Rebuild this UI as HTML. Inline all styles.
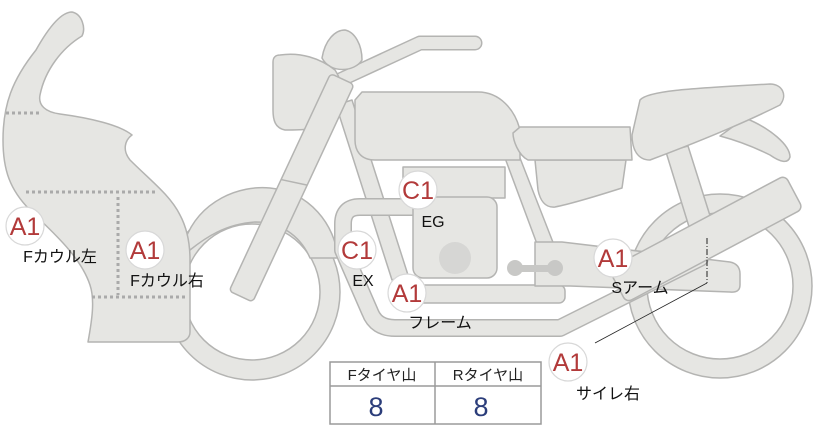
<!DOCTYPE html>
<html><head><meta charset="utf-8"><style>
html,body{margin:0;padding:0;background:#fff;}
svg{display:block;}
text{font-family:"Liberation Sans","Noto Sans CJK JP",sans-serif;}
</style></head><body>
<svg width="822" height="425" viewBox="0 0 822 425" xmlns="http://www.w3.org/2000/svg">
<g fill="#e6e6e3" stroke="#b4b4b2" stroke-width="1.5" stroke-linejoin="round">
<circle cx="720" cy="286" r="92"/>
<circle cx="720" cy="286" r="73" fill="#fff"/>
<circle cx="252" cy="292" r="88"/>
<circle cx="252" cy="292" r="68" fill="#fff"/>
<path d="M185,240 C200,200 240,185 270,188 C310,192 335,225 338,258 L310,258 C300,235 280,222 255,222 C225,224 205,238 190,250 Z"/>
<path d="M745,118 C770,128 790,145 790,157 C788,164 780,162 770,155 C750,145 735,140 720,136 Z"/>
<polygon points="666,152 688,146 712,222 690,230"/>
<path d="M535,160 L626,160 L622,188 C600,195 575,203 555,207 C545,208 540,200 538,190 Z"/>
<polygon points="505,158 520,158 556,250 540,252"/>
<polygon points="336,105 352,100 408,275 392,280"/>
<rect x="400" y="285" width="165" height="18" rx="6"/>
<path d="M535,242 L562,242 L730,262 Q740,264 740,274 L740,285 Q740,293 730,292 L570,286 L535,286 Z"/>
<path d="M420,207 L360,207 Q343,207 343,224 L343,250 L370,312 Q376,328 395,328 L560,328 L700,258" fill="none" stroke="#b4b4b2" stroke-width="18" stroke-linecap="round"/>
<path d="M420,207 L360,207 Q343,207 343,224 L343,250 L370,312 Q376,328 395,328 L560,328 L700,258" fill="none" stroke="#e6e6e3" stroke-width="15" stroke-linecap="round"/>
<g transform="translate(617,285) rotate(-28)">
<rect x="0" y="-18" width="200" height="38" rx="6"/>
</g>
<rect x="403" y="167" width="102" height="31"/>
<rect x="413" y="197" width="84" height="81" rx="10"/>
<circle cx="455" cy="258" r="16" fill="#d6d6d4" stroke="none"/>
<g fill="#c8c8c6" stroke="none">
<rect x="515" y="265" width="45" height="7"/>
<circle cx="515" cy="268" r="8"/><circle cx="555" cy="268" r="8"/>
</g>
<path d="M340,80 L420,43 L475,43" fill="none" stroke="#b4b4b2" stroke-width="15" stroke-linecap="round" stroke-linejoin="round"/>
<path d="M340,80 L420,43 L475,43" fill="none" stroke="#e6e6e3" stroke-width="12" stroke-linecap="round" stroke-linejoin="round"/>
<path d="M322,58 C325,40 335,30 345,30 C355,32 362,45 362,60 C355,72 330,74 322,58 Z"/>
<path d="M280,55 C300,52 320,58 335,70 C345,85 345,110 335,122 C320,130 300,130 285,130 C275,128 273,120 273,110 L273,62 C273,57 276,55 280,55 Z"/>
<path d="M362,92 L478,92 C500,92 515,110 520,130 L520,160 L375,160 C360,160 355,150 355,140 L355,100 Z"/>
<path d="M520,127 L630,127 L632,160 L528,160 C518,155 513,140 513,133 Z"/>
<path d="M640,100 C648,90 700,88 770,84 C782,84 788,95 780,105 C740,125 690,145 650,160 C638,160 632,150 632,135 Z"/>
<g transform="translate(243,292) rotate(-65)">
<rect x="-5" y="-13" width="240" height="26" rx="4"/>
<line x1="118" y1="-13" x2="124" y2="13"/>
</g>
<path d="M36,50 C50,25 62,12 72,12 C82,14 86,28 82,36 C62,48 45,70 40,95 C38,105 45,112 60,114 C90,118 120,125 132,135 C125,140 122,150 130,160 C150,180 170,195 180,215 C188,230 190,245 190,260 L190,332 C190,338 185,342 178,342 L88,342 C92,320 95,300 90,285 C80,255 50,230 30,210 C10,190 3,170 3,140 C3,105 12,80 36,50 Z"/>
</g>
<g stroke="#aaaaaa" stroke-width="3" stroke-dasharray="3,3" fill="none">
<line x1="6" y1="113" x2="40" y2="113"/>
<line x1="26" y1="192" x2="155" y2="192"/>
<line x1="118" y1="197" x2="118" y2="295"/>
<line x1="92" y1="297" x2="188" y2="297"/>
</g>
<line x1="595" y1="343" x2="707" y2="283" stroke="#222" stroke-width="0.8"/>
<line x1="707" y1="238" x2="707" y2="283" stroke="#222" stroke-width="1" stroke-dasharray="6,2,1,2"/>
<g>
<g fill="#fff" stroke="#d8d8d8" stroke-width="1.2">
<circle cx="25" cy="226" r="19"/>
<circle cx="145" cy="250" r="19"/>
<circle cx="357" cy="250" r="19"/>
<circle cx="418" cy="190" r="19"/>
<circle cx="407" cy="293" r="19"/>
<circle cx="613" cy="258" r="19"/>
<circle cx="568" cy="362" r="19"/>
</g>
<g fill="#b23a3a" font-size="25" text-anchor="middle">
<text x="25" y="235">A1</text>
<text x="145" y="259">A1</text>
<text x="357" y="259">C1</text>
<text x="418" y="199">C1</text>
<text x="407" y="302">A1</text>
<text x="613" y="267">A1</text>
<text x="568" y="371">A1</text>
</g>
</g>
<g fill="#111" font-size="16" text-anchor="middle">
<text x="60" y="262">Fカウル左</text>
<text x="167" y="286">Fカウル右</text>
<text x="363" y="286">EX</text>
<text x="433" y="227">EG</text>
<text x="440" y="328">フレーム</text>
<text x="640" y="293">Sアーム</text>
<text x="608" y="399">サイレ右</text>
</g>
<g fill="none" stroke="#9a9a9a" stroke-width="1.5">
<rect x="330" y="362" width="211" height="62"/>
<line x1="330" y1="386" x2="541" y2="386"/>
<line x1="435" y1="362" x2="435" y2="424"/>
</g>
<g font-size="15" fill="#222" text-anchor="middle">
<text x="382" y="380">Fタイヤ山</text>
<text x="488" y="380">Rタイヤ山</text>
</g>
<g font-size="27" fill="#2b3d7a" text-anchor="middle">
<text x="376" y="416">8</text>
<text x="481" y="416">8</text>
</g>
</svg>
</body></html>
